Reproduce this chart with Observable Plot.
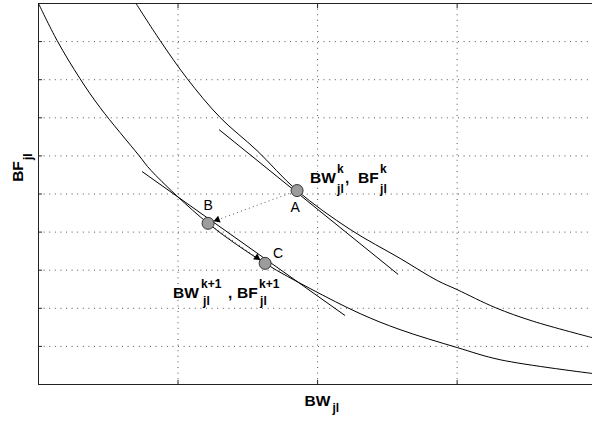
<!DOCTYPE html>
<html><head><meta charset="utf-8">
<script src="https://cdn.jsdelivr.net/npm/d3@7"></script>
<script src="https://cdn.jsdelivr.net/npm/@observablehq/plot@0.6"></script>
<style>body{margin:0;background:#fff;} svg{display:block;}</style>
</head><body><div id="chart"></div>
<script>
// ---- data ----
const xTicks = [1, 2, 3];
const yTicks = [1, 2, 3, 4, 5, 6, 7, 8, 9];

// lower curve (iteration k+1)
const curve1X = [0.000, 0.133, 0.297, 0.441, 0.720, 0.806, 1.215, 1.624, 1.946, 2.305, 2.591, 3.000, 3.308, 3.968];
const curve1Y = [10.00, 9.03, 8.03, 7.27, 6.01, 5.62, 4.23, 3.18, 2.52, 1.86, 1.44, 0.97, 0.65, 0.29];
// upper curve (iteration k)
const curve2X = [0.699, 0.871, 1.065, 1.301, 1.566, 1.853, 2.233, 2.591, 2.857, 3.000, 3.272, 3.545, 3.968];
const curve2Y = [10.00, 9.03, 8.03, 7.01, 6.14, 5.09, 4.07, 3.31, 2.73, 2.49, 2.02, 1.66, 1.23];

// tangent lines at A and B
const tangentX1 = [1.294, 0.742];
const tangentY1 = [6.69, 5.59];
const tangentX2 = [2.577, 2.197];
const tangentY2 = [2.89, 1.81];

// points
const pointNames = ["A", "B", "C"];
const pointX = [1.853, 1.215, 1.624];
const pointY = [5.09, 4.23, 3.18];
// dotted step arrows (from -> to)
const stepFrom = ["A", "B"];
const stepTo = ["B", "C"];

// ---- layout ----
const W = 592, H = 422, mL = 38, mR = 0, mT = 3, mB = 38;
const xDomain = [0, 3.97], yDomain = [0, 10];
const kx = (W - mL - mR) / (xDomain[1] - xDomain[0]);
const ky = (H - mT - mB) / (yDomain[1] - yDomain[0]);
const ARROW_GAP = 10;

const pts = pointNames.map((n, i) => ({name: n, x: pointX[i], y: pointY[i]}));
const P = Object.fromEntries(pts.map(p => [p.name, p]));
const c1 = curve1X.map((x, i) => ({x, y: curve1Y[i]}));
const c2 = curve2X.map((x, i) => ({x, y: curve2Y[i]}));
const tangents = tangentX1.map((x, i) => ({x1: x, y1: tangentY1[i], x2: tangentX2[i], y2: tangentY2[i]}));
const steps = stepFrom.map((f, i) => ({a: P[f], b: P[stepTo[i]]}));
const stepLines = steps.map(s => ({x1: s.a.x, y1: s.a.y, x2: s.b.x, y2: s.b.y}));
const heads = steps.map(({a, b}) => {
  const dxp = (b.x - a.x) * kx, dyp = -(b.y - a.y) * ky;
  const len = Math.hypot(dxp, dyp);
  const t = ARROW_GAP / len;
  return {x: b.x - (b.x - a.x) * t, y: b.y - (b.y - a.y) * t, angle: Math.atan2(dyp, dxp) * 180 / Math.PI + 90};
});

const grid = {stroke: "#555", strokeWidth: 1, strokeDasharray: "1,4.6"};
const font = "Liberation Sans, Arial, Helvetica, sans-serif";
const bold = {fontFamily: font, fontWeight: "bold", fill: "black", textAnchor: "start", lineAnchor: "bottom"};
const big = 15.5, small = 12;
const piece = (data, s, dx, dy, size) => Plot.text(data, {x: "x", y: "y", text: () => s, dx, dy, fontSize: size, ...bold});
const letter = (name, dx, dy) => Plot.text([P[name]], {x: "x", y: "y", text: "name", dx, dy, fontSize: 14, fontFamily: font, fill: "black"});

const plot = Plot.plot({
  width: W, height: H, marginLeft: mL, marginRight: mR, marginTop: mT, marginBottom: mB,
  style: {background: "white", overflow: "visible"},
  x: {domain: xDomain, label: null},
  y: {domain: yDomain, label: null},
  marks: [
    Plot.ruleX(xTicks, grid),
    Plot.ruleY(yTicks, grid),
    Plot.axisX(xTicks, {anchor: "bottom", tickSize: -4, tickFormat: () => "", label: null, stroke: "#222"}),
    Plot.axisX(xTicks, {anchor: "top", tickSize: -4, tickFormat: () => "", label: null, stroke: "#222"}),
    Plot.axisY(yTicks, {anchor: "left", tickSize: -4, tickFormat: () => "", label: null, stroke: "#222"}),
    Plot.ruleX([0], {stroke: "#222"}),
    Plot.ruleY([0, 10], {stroke: "#222"}),
    Plot.line(c1, {x: "x", y: "y", curve: "catmull-rom", stroke: "black", strokeWidth: 1}),
    Plot.line(c2, {x: "x", y: "y", curve: "catmull-rom", stroke: "black", strokeWidth: 1}),
    Plot.link(tangents, {x1: "x1", y1: "y1", x2: "x2", y2: "y2", stroke: "black", strokeWidth: 1}),
    Plot.link(stepLines, {x1: "x1", y1: "y1", x2: "x2", y2: "y2", stroke: "#555", strokeWidth: 1, strokeDasharray: "1,3.2"}),
    Plot.dot(heads, {x: "x", y: "y", symbol: "triangle", r: 2.7, fill: "black", stroke: "none", rotate: "angle"}),
    Plot.dot(pts, {x: "x", y: "y", r: 6, fill: "#9c9c9c", stroke: "#333", strokeWidth: 1}),
    letter("A", -2, 17),
    letter("B", 0, -18),
    letter("C", 13, -10),
    // BW^k_jl, BF^k_jl  (at A)
    piece([P.A], "BW", 13, -8, big),
    piece([P.A], "k", 40, -18, small),
    piece([P.A], "jl", 40, 2, small),
    piece([P.A], ",", 48, -8, big),
    piece([P.A], "BF", 61, -8, big),
    piece([P.A], "k", 83, -18, small),
    piece([P.A], "jl", 83, 2, small),
    // BW^{k+1}_jl, BF^{k+1}_jl  (at C)
    piece([P.C], "BW", -92, 35, big),
    piece([P.C], "k+1", -64, 25, small),
    piece([P.C], "jl", -62, 42, small),
    piece([P.C], ",", -37, 35, big),
    piece([P.C], "BF", -28, 35, big),
    piece([P.C], "k+1", -6, 25, small),
    piece([P.C], "jl", -5, 42, small),
    // axis labels
    Plot.text(["BW"], {frameAnchor: "bottom", text: d => d, dx: -11, dy: 21, fontSize: big, ...bold}),
    Plot.text(["jl"], {frameAnchor: "bottom", text: d => d, dx: 17, dy: 27.5, fontSize: small, ...bold}),
    Plot.text(["BF"], {frameAnchor: "left", text: d => d, rotate: -90, dx: -16, dy: -22.5, fontSize: big, ...bold, textAnchor: "middle"}),
    Plot.text(["jl"], {frameAnchor: "left", text: d => d, rotate: -90, dx: -7, dy: -34, fontSize: small, ...bold})
  ]
});
document.getElementById("chart").appendChild(plot);
</script>
</body></html>
